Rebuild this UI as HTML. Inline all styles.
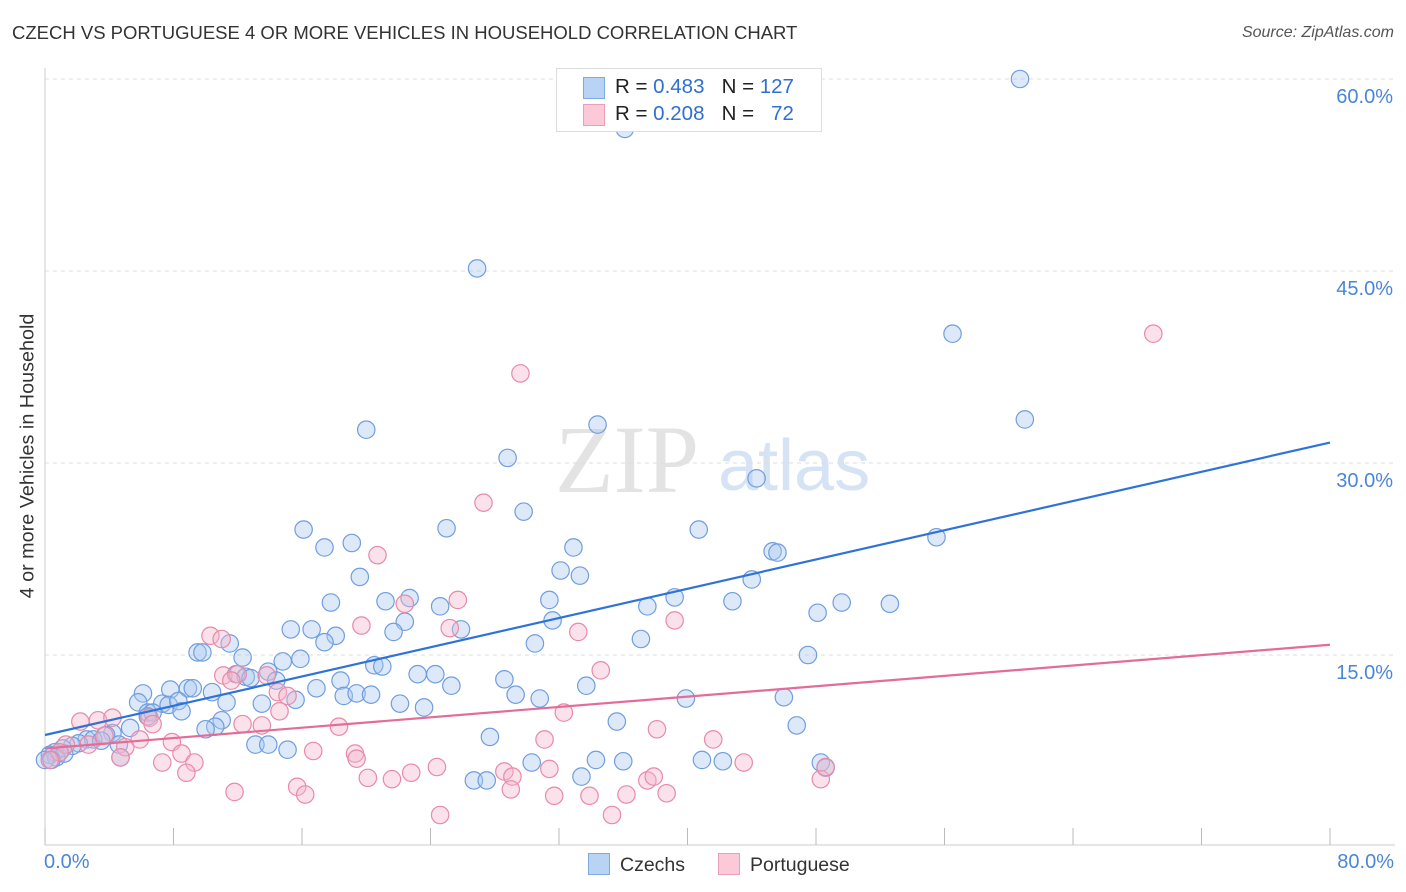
<!DOCTYPE html>
<html><head><meta charset="utf-8"><style>
body{margin:0;background:#fff;font-family:"Liberation Sans",sans-serif;}
#wrap{position:relative;width:1406px;height:892px;overflow:hidden;}
.t{position:absolute;white-space:nowrap;}
</style></head><body>
<div id="wrap">
<div class="t" style="left:12px;top:22px;font-size:18.5px;color:#333;">CZECH VS PORTUGUESE 4 OR MORE VEHICLES IN HOUSEHOLD CORRELATION CHART</div>
<div class="t" style="right:12px;top:24px;font-size:16px;color:#555;font-style:italic;">Source: ZipAtlas.com</div>
<div class="t" style="left:28px;top:456px;font-size:19.8px;color:#333;transform:translate(-50%,-50%) rotate(-90deg);">4 or more Vehicles in Household</div>
<svg id="svg" width="1406" height="892" style="position:absolute;left:0;top:0"></svg>
</div>
<script>
const blueX=[60.7,36.1,26.9,56.5,20.0,61.0,34.4,28.8,44.3,29.8,16.1,25.0,40.7,55.5,17.4,19.1,32.9,45.3,45.6,19.6,32.1,33.3,44.0,17.8,21.2,22.7,24.6,31.4,39.2,42.8,49.6,52.6,48.1,37.5,31.6,22.4,21.7,15.3,16.6,18.1,25.9,17.4,30.5,37.1,11.5,9.5,9.8,12.3,47.5,14.8,15.9,20.5,21.0,11.9,12.5,12.8,13.9,14.4,23.2,24.3,16.9,18.4,6.1,7.8,8.9,9.2,10.4,28.6,33.7,25.3,18.6,19.4,20.3,15.6,29.3,30.8,39.9,46.0,5.8,7.3,7.7,8.3,6.4,6.7,8.5,11.3,13.5,22.1,23.6,35.6,46.8,6.4,11.0,5.3,10.6,10.0,4.2,3.8,4.6,2.6,3.0,3.5,2.1,1.7,1.1,0.6,0.3,0.7,1.2,4.7,13.1,13.9,15.1,27.7,34.3,36.0,40.9,42.2,30.3,33.4,26.7,27.5,48.3,48.6,0.0,0.4];
const blueY=[60.0,56.1,45.2,40.1,32.6,33.4,33.0,30.4,28.8,26.2,24.8,24.9,24.8,24.2,23.4,23.75,23.4,23.1,23.0,21.1,21.6,21.2,20.9,19.1,19.2,19.45,18.8,19.3,19.5,19.2,19.1,19.0,18.3,18.8,17.7,17.6,16.8,17.0,17.0,16.5,17.0,16.0,15.9,16.25,15.9,15.2,15.2,14.8,15.0,14.5,14.7,14.2,14.1,13.5,13.3,13.2,13.7,13.0,13.5,13.5,12.4,13.0,12.0,12.3,12.4,12.4,12.1,13.1,12.6,12.6,11.8,12.0,11.9,11.5,11.9,11.6,11.6,11.7,11.3,11.2,11.1,11.4,10.5,10.5,10.6,11.3,11.2,11.2,10.9,9.8,9.5,10.2,9.9,9.3,9.4,9.2,8.9,8.75,8.0,8.4,8.4,8.3,8.1,7.9,7.7,7.4,7.2,7.0,7.3,7.0,8.0,8.0,7.6,8.6,6.8,6.7,6.8,6.7,6.6,5.5,5.2,5.2,6.6,6.2,6.8,6.8];
const pinkX=[69.0,29.6,27.3,20.7,22.4,25.7,19.7,25.2,33.2,39.2,34.6,10.3,11.0,11.1,12.0,11.6,13.8,14.5,15.1,14.6,6.5,6.7,13.5,12.3,2.2,3.3,4.2,18.3,32.3,3.7,5.0,5.9,7.9,8.5,9.3,7.3,2.7,1.3,0.9,0.3,16.7,19.3,19.4,31.1,41.6,38.1,43.5,24.4,28.6,29.1,31.4,22.8,21.6,20.1,15.7,16.2,11.8,8.8,29.0,31.7,33.9,36.2,37.5,37.9,38.7,24.6,35.3,48.3,48.6,4.7];
const pinkY=[40.1,37.0,26.9,22.8,19.0,19.3,17.3,17.1,16.8,17.7,13.8,16.5,16.25,13.4,13.5,13.0,13.4,12.1,11.8,10.6,10.1,9.6,9.5,9.6,9.8,9.9,10.1,9.4,10.5,8.7,7.8,8.4,8.2,7.3,6.6,6.6,8.0,8.0,7.4,6.8,7.5,7.3,6.9,8.4,8.4,9.2,6.6,6.25,5.9,5.5,6.1,5.8,5.3,5.4,4.7,4.1,4.3,5.8,4.5,4.0,4.0,4.1,5.2,5.5,4.2,2.5,2.5,5.3,6.25,7.0];
const yTicks=[15,30,45,60];
const blueLine=[8.75,31.6], pinkLine=[7.7,15.8];
const X0=45,X1=1330,Y0=847,PX=12.8;
const sx=v=>X0+(v/80)*(X1-X0), sy=v=>Y0-v*PX;
const svg=document.getElementById('svg');const NS='http://www.w3.org/2000/svg';
function mk(t,a){const e=document.createElementNS(NS,t);for(const k in a)e.setAttribute(k,a[k]);svg.appendChild(e);return e;}
let w=mk('text',{x:555,y:492,'font-size':96,fill:'#e3e3e3','font-family':'Liberation Serif, serif'});w.textContent='ZIP';


w=mk('text',{x:718,y:490,'font-size':72,fill:'#d5e3f4','font-family':'Liberation Sans, sans-serif'});w.textContent='atlas';


yTicks.forEach(v=>{
 const g=mk('line',{x1:X0,x2:1395,y1:sy(v),y2:sy(v),stroke:'#ddd','stroke-dasharray':'4,4'});
 
 
 const t=mk('text',{x:1393,y:sy(v)+24,'text-anchor':'end','font-size':20,fill:'#4a86d8'});t.textContent=v.toFixed(1)+'%';
 
 
});
let a=mk('line',{x1:X0,x2:X0,y1:68,y2:845,stroke:'#ccc'});


a=mk('line',{x1:X0,x2:1395,y1:845,y2:845,stroke:'#ccc'});


for(let i=0;i<=10;i++){const t=mk('line',{x1:sx(i*8),x2:sx(i*8),y1:828,y2:845,stroke:'#bbb'});
 
 }
function pts(xs,ys,fill,stroke,name){xs.forEach((x,i)=>{const c=mk('circle',{cx:sx(x),cy:sy(ys[i]),r:8.7,fill:fill,'fill-opacity':0.4,stroke:stroke,'stroke-width':1.2});
 
 });}
pts(blueX,blueY,'#a9c7f0','#6f9ee0','czech-point');
pts(pinkX,pinkY,'#f5b3c8','#e88aaa','portuguese-point');
let l=mk('line',{x1:sx(0),y1:sy(blueLine[0]),x2:sx(80),y2:sy(blueLine[1]),stroke:'#2f73d8','stroke-width':2.2});


l=mk('line',{x1:sx(0),y1:sy(pinkLine[0]),x2:sx(80),y2:sy(pinkLine[1]),stroke:'#e46c98','stroke-width':2.2});


</script>
<div class="t" style="left:44px;top:851px;font-size:20px;color:#4a86d8;">0.0%</div>
<div class="t" style="right:12px;top:851px;font-size:20px;color:#4a86d8;">80.0%</div>
<div style="position:absolute;left:556px;top:68px;width:264px;height:62px;border:1px solid #ddd;background:#fff;font-size:20.5px;">
 <div style="position:absolute;left:26px;top:8px;width:20px;height:20px;background:#b9d3f5;border:1px solid #7ea9e3;"></div>
 <div class="t" style="left:58px;top:6px;color:#222;">R = <span style="color:#2f6fd0">0.483</span>&nbsp;&nbsp;&nbsp;N = <span style="color:#2f6fd0">127</span></div>
 <div style="position:absolute;left:26px;top:35px;width:20px;height:20px;background:#fbc9d8;border:1px solid #eba0b9;"></div>
 <div class="t" style="left:58px;top:33px;color:#222;">R = <span style="color:#2f6fd0">0.208</span>&nbsp;&nbsp;&nbsp;N = &nbsp;&nbsp;<span style="color:#2f6fd0">72</span></div>
</div>
<div style="position:absolute;left:588px;top:853px;font-size:19.5px;color:#333;">
 <span style="position:absolute;left:0;top:0;white-space:nowrap;"><span style="display:inline-block;width:20px;height:20px;background:#b9d3f5;border:1px solid #7ea9e3;vertical-align:-4px;margin-right:10px;"></span>Czechs</span>
 <span style="position:absolute;left:130px;top:0;white-space:nowrap;"><span style="display:inline-block;width:20px;height:20px;background:#fbc9d8;border:1px solid #eba0b9;vertical-align:-4px;margin-right:10px;"></span>Portuguese</span>
</div>
</body></html>
